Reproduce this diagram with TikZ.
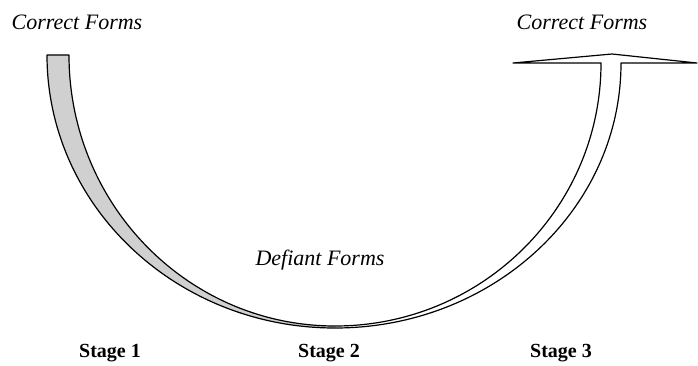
\documentclass[tikz,border=0pt]{standalone}
\usepackage{fontspec}
\setmainfont{Liberation Serif}
\definecolor{bandgray}{RGB}{208,208,208}
\begin{document}
\begin{tikzpicture}[x=1pt,y=1pt,
  outline/.style={draw=black,line width=1.2pt,line join=round},
  lbl/.style={inner sep=0pt,anchor=base,font=\fontsize{22}{25}\selectfont\itshape},
  stagelbl/.style={inner sep=0pt,anchor=base,font=\fontsize{20}{24}\selectfont\bfseries}]
\useasboundingbox (0,0) rectangle (698,365);
% left band (grey)
\fill[bandgray] (47,310) arc[start angle=180,end angle=270,x radius=288,y radius=273]
  -- (335,39) arc[start angle=270,end angle=180,x radius=266,y radius=271] -- cycle;
\draw[outline] (335,37) arc[start angle=270,end angle=180,x radius=288,y radius=273]
  -- (69,310) arc[start angle=180,end angle=270,x radius=266,y radius=271];
% right band with T head
\draw[outline] (335,37) arc[start angle=270,end angle=360,x radius=286,y radius=265]
  -- (697,302) -- (612,311) -- (513,302) -- (601,302)
  arc[start angle=0,end angle=-90,x radius=266,y radius=263];
% labels
\node[lbl] (cf1) at (77,335) {Correct Forms};
\node[lbl] (cf2) at (582,335) {Correct Forms};
\node[lbl] (df) at (320,100) {Defiant Forms};
\node[stagelbl] (s1) at (110,8) {Stage 1};
\node[stagelbl] (s2) at (329,8) {Stage 2};
\node[stagelbl] (s3) at (561,8) {Stage 3};
\end{tikzpicture}
\end{document}
